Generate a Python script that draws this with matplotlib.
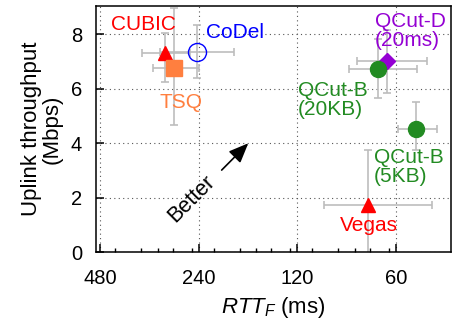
import matplotlib
matplotlib.use("Agg")
import matplotlib.pyplot as plt
from matplotlib.ticker import FixedLocator, NullFormatter

plt.rcParams['font.family'] = ['Liberation Sans', 'DejaVu Sans']
plt.rcParams['mathtext.fontset'] = 'custom'
plt.rcParams['mathtext.rm'] = 'Liberation Sans'
plt.rcParams['mathtext.it'] = 'Liberation Sans:italic'

# ---- data ----
schemes = ['CUBIC', 'CoDel', 'TSQ', 'QCut-D (20ms)', 'QCut-B (20KB)', 'QCut-B (5KB)', 'Vegas']
rtt = [304, 243, 285, 63.8, 68.0, 52.2, 73.3]          # ms
rtt_min = [255.6, 187.3, 239.5, 48.4, 51.9, 45.1, 46.5]
rtt_max = [356.6, 316.0, 331.5, 78.8, 83.5, 59.1, 99.3]
thr = [7.32, 7.36, 6.75, 7.02, 6.73, 4.52, 1.73]       # Mbps
thr_min = [6.26, 6.39, 4.67, 5.83, 5.65, 3.75, -0.29]
thr_max = [8.05, 8.35, 8.96, 8.16, 7.81, 5.53, 3.75]

colors = ['#ff0000', '#0000ff', '#ff7f3f', '#9400d3', '#228b22', '#228b22', '#ff0000']
markers = ['^', 'o', 's', 'D', 'o', 'o', '^']
msizes = [10.5, 13, 12, 7.8, 11.5, 11.5, 10.5]
filled = [True, False, True, True, True, True, True]

label_texts = ['CUBIC', 'CoDel', 'TSQ', 'QCut-D\n(20ms)', 'QCut-B\n(20KB)', 'QCut-B\n(5KB)', 'Vegas']
label_x = [353.7, 186.0, 272.7, 69.6, 119.5, 70.1, 72.6]
label_y = [8.35, 8.05, 5.48, 8.11, 5.59, 3.11, 0.99]
label_ha = ['center', 'center', 'center', 'left', 'left', 'left', 'center']

x_major = [480, 240, 120, 60]
x_minor_factors = [0.9, 0.75, 2 / 3, 0.6, 0.525]
y_major = [0, 2, 4, 6, 8]

fig = plt.figure(figsize=(4.54, 3.25), dpi=100)
ax = fig.add_axes([96 / 454, 1 - 252 / 325, 355 / 454, 246 / 325])

ax.set_xscale('log', base=2)

for i in range(len(schemes)):
    xe = [[rtt[i] - rtt_min[i]], [rtt_max[i] - rtt[i]]]
    ye = [[thr[i] - thr_min[i]], [thr_max[i] - thr[i]]]
    ax.errorbar([rtt[i]], [thr[i]], xerr=xe, yerr=ye, fmt='none',
                ecolor='#bdbdbd', elinewidth=1.2, capsize=3, capthick=1.2, zorder=2)
for i in range(len(schemes)):
    ax.plot([rtt[i]], [thr[i]], linestyle='none', marker=markers[i], ms=msizes[i],
            mfc=colors[i] if filled[i] else 'none', mec=colors[i],
            mew=1.0, zorder=3)
    ax.text(label_x[i], label_y[i], label_texts[i], color=colors[i], fontsize=15,
            ha=label_ha[i], va='center', multialignment='left', linespacing=1.0, zorder=4)

ax.set_xlim(494, 40.8)
ax.set_ylim(0, 9.04)

ax.xaxis.set_major_locator(FixedLocator(x_major))
ax.set_xticklabels([str(v) for v in x_major])
minors = [v * f for v in x_major[:3] for f in x_minor_factors]
ax.xaxis.set_minor_locator(FixedLocator(minors))
ax.xaxis.set_minor_formatter(NullFormatter())
ax.set_yticks(y_major)

ax.tick_params(axis='both', which='major', direction='in', length=6, width=1.1,
               labelsize=14.5)
ax.tick_params(axis='x', which='major', pad=12)
ax.tick_params(axis='y', which='major', pad=10)
ax.tick_params(axis='x', which='minor', direction='in', length=2.7, width=1.0)
ax.tick_params(axis='y', which='minor', left=False)

for s in ax.spines.values():
    s.set_linewidth(1.1)

ax.grid(True, which='major', linestyle=(0, (1, 3)), color='#555555', linewidth=0.8)
ax.set_axisbelow(True)

ax.set_xlabel(r'$RTT_F$ (ms)', fontsize=16, labelpad=5)
ax.set_ylabel('Uplink throughput\n(Mbps)', fontsize=16, labelpad=6, linespacing=0.95)

ax.annotate('', xy=(0.429, 0.442), xytext=(0.354, 0.333), xycoords='axes fraction',
            arrowprops=dict(arrowstyle='-|>,head_length=0.6,head_width=0.25',
                            color='black', lw=1.2, mutation_scale=20, shrinkA=0, shrinkB=0))
ax.text(0.27, 0.218, 'Better', transform=ax.transAxes, rotation=45, fontsize=15.5,
        ha='center', va='center')

fig.savefig('out.png', dpi=100)
